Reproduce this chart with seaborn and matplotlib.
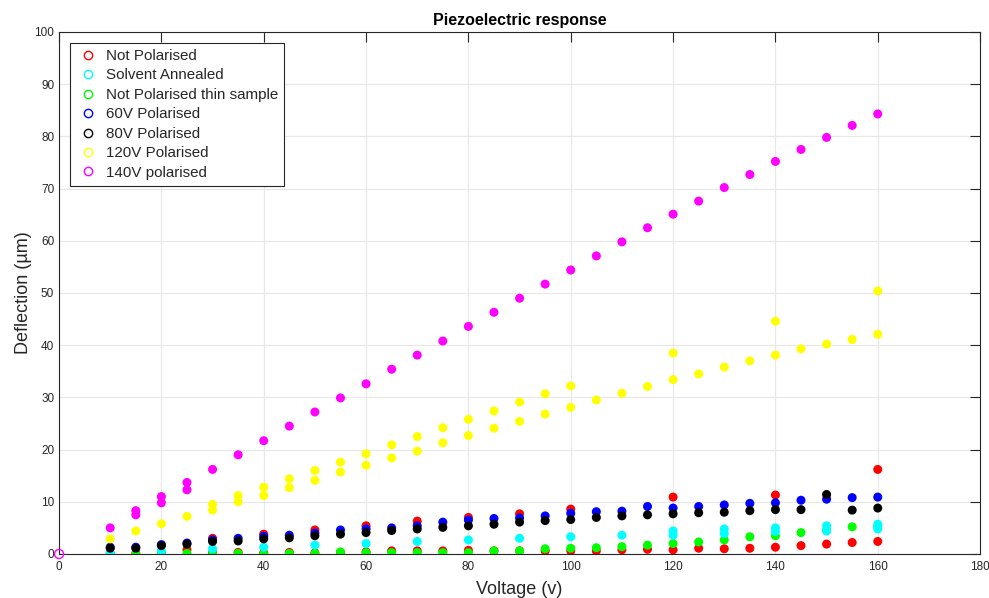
import matplotlib
matplotlib.use("Agg")
import matplotlib.pyplot as plt
from matplotlib.lines import Line2D
import numpy as np
import pandas as pd
import seaborn as sns

# ---- measured deflection (µm) versus drive voltage (V) ----
v_step5 = list(range(10, 165, 5))          # 10, 15, ..., 160
v_step10 = list(range(10, 170, 10))        # 10, 20, ..., 160

not_pol_v = v_step5 + [30, 40, 50, 60, 70, 80, 90, 100, 120, 140, 160]
not_pol_d = [0.1, 0.1, 0.1, 0.8, 0.2, 0.3, 0.2, 0.3, 0.2, 0.3, 0.4, 0.6, 0.6, 0.6,
             0.7, 0.6, 0.6, 0.6, 0.6, 0.6, 0.8, 0.9, 0.8, 1.1, 1.0, 1.1, 1.3, 1.6,
             1.9, 2.2, 2.4,
             3.0, 3.8, 4.6, 5.4, 6.3, 7.0, 7.7, 8.6, 10.9, 11.3, 16.2]

thin_v = v_step5
thin_d = [0.0, 0.0, 0.0, 0.1, 0.0, 0.1, 0.0, 0.1, 0.1, 0.4, 0.25, 0.25, 0.25, 0.25,
          0.25, 0.6, 0.6, 1.0, 1.1, 1.2, 1.4, 1.7, 2.0, 2.3, 2.7, 3.3, 3.5, 4.1,
          4.6, 5.2, 5.3]

annealed_v = v_step10 + [120, 130, 140, 150, 160]
annealed_d = [0.1, 0.6, 1.0, 1.3, 1.7, 2.0, 2.4, 2.7, 3.0, 3.3, 3.6, 4.4, 4.8, 5.0,
              5.4, 5.7,
              3.6, 3.9, 4.3, 4.4, 4.8]

pol60_v = v_step5
pol60_d = [1.3, 1.3, 1.8, 2.1, 2.7, 3.0, 3.4, 3.6, 4.0, 4.6, 4.8, 5.0, 5.4, 6.1,
           6.5, 6.8, 6.9, 7.3, 7.8, 8.1, 8.2, 9.1, 8.8, 9.1, 9.4, 9.7, 9.8, 10.3,
           10.5, 10.8, 10.9]

pol80_v = v_step5
pol80_d = [1.1, 1.1, 1.6, 1.9, 2.4, 2.5, 2.9, 3.1, 3.5, 3.8, 4.1, 4.5, 4.8, 5.1,
           5.4, 5.7, 6.1, 6.4, 6.6, 7.0, 7.3, 7.5, 7.7, 7.9, 8.0, 8.3, 8.5, 8.5,
           11.4, 8.4, 8.8]

pol120_v = v_step5 + list(range(30, 105, 5)) + [120, 140, 160]
pol120_d = [2.9, 4.4, 5.8, 7.2, 8.4, 10.0, 11.2, 12.7, 14.1, 15.7, 17.0, 18.4,
            19.7, 21.3, 22.7, 24.1, 25.4, 26.8, 28.1, 29.5, 30.8, 32.1, 33.4,
            34.5, 35.8, 37.0, 38.1, 39.3, 40.2, 41.1, 42.1,
            9.5, 11.2, 12.8, 14.4, 16.0, 17.6, 19.2, 20.9, 22.5, 24.2, 25.8,
            27.4, 29.1, 30.7, 32.2, 38.5, 44.6, 50.4]

pol140_v = v_step5 + [15, 20, 25]
pol140_d = [5.0, 8.3, 11.0, 13.7, 16.2, 19.0, 21.7, 24.5, 27.2, 29.9, 32.6, 35.4,
            38.1, 40.8, 43.6, 46.3, 49.0, 51.7, 54.4, 57.1, 59.8, 62.5, 65.1,
            67.6, 70.2, 72.7, 75.2, 77.5, 79.8, 82.1, 84.3,
            7.5, 9.8, 12.3]

legend_order = ["Not Polarised", "Solvent Annealed", "Not Polarised thin sample",
                "60V Polarised", "80V Polarised", "120V Polarised", "140V polarised"]
colors = {"Not Polarised": "#ff0000", "Solvent Annealed": "#00ffff",
          "Not Polarised thin sample": "#00ff00", "60V Polarised": "#0000ff",
          "80V Polarised": "#000000", "120V Polarised": "#ffff00",
          "140V polarised": "#ff00ff"}

series = {
    "Not Polarised": (not_pol_v, not_pol_d),
    "Not Polarised thin sample": (thin_v, thin_d),
    "Solvent Annealed": (annealed_v, annealed_d),
    "60V Polarised": (pol60_v, pol60_d),
    "80V Polarised": (pol80_v, pol80_d),
    "120V Polarised": (pol120_v, pol120_d),
    "140V polarised": (pol140_v, pol140_d),
}

# rows in stacking order (later rows are drawn on top)
frames = [pd.DataFrame({"Sample": name, "Voltage": v, "Deflection": d})
          for name, (v, d) in series.items()]
df = pd.concat(frames, ignore_index=True)

sns.set_style("white")
plt.rcParams["font.family"] = ["Liberation Sans", "DejaVu Sans"]

fig = plt.figure(figsize=(9.89, 5.98), dpi=100)
ax = fig.add_axes([0.0597, 0.0736, 0.9313, 0.8729])

sns.scatterplot(data=df, x="Voltage", y="Deflection", hue="Sample",
                palette=colors, s=42, linewidth=0, edgecolor="none",
                legend=False, ax=ax, zorder=3)

# open marker at the origin
ax.scatter([0], [0], s=42, facecolors="none", edgecolors="#ff00ff",
           linewidths=1.0, zorder=4, clip_on=False)

ax.set_xlim(0, 180)
ax.set_ylim(0, 100)
ax.set_xticks(np.arange(0, 181, 20))
ax.set_yticks(np.arange(0, 101, 10))
ax.grid(True, color="#e8e8e8", linewidth=0.9, zorder=0)
ax.set_axisbelow(True)

for sp in ax.spines.values():
    sp.set_color("#262626")
    sp.set_linewidth(0.8)
ax.tick_params(axis="both", direction="in", length=7, width=0.8,
               color="#262626", labelcolor="#262626", labelsize=8.5,
               top=True, right=True)
ax.tick_params(axis="x", pad=5)

ax.set_xlabel("Voltage (v)", fontsize=13, color="#262626", labelpad=6)
ax.set_ylabel("Deflection (µm)", fontsize=13, color="#262626", labelpad=2)
ax.set_title("Piezoelectric response", fontsize=11.5, fontweight="bold",
             color="#000000", pad=5)

handles = [Line2D([], [], linestyle="none", marker="o", markersize=6,
                  markerfacecolor="none", markeredgecolor=colors[n],
                  markeredgewidth=1.0, label=n) for n in legend_order]
leg = ax.legend(handles=handles, loc="upper left",
                bbox_to_anchor=(0.012, 0.979), fontsize=10.9, frameon=True,
                fancybox=False, edgecolor="#262626", framealpha=1,
                borderpad=0.4, labelspacing=0.36, handletextpad=0.4,
                handlelength=1.55, borderaxespad=0)
leg.get_frame().set_linewidth(0.8)

fig.savefig("out.png", dpi=100)
